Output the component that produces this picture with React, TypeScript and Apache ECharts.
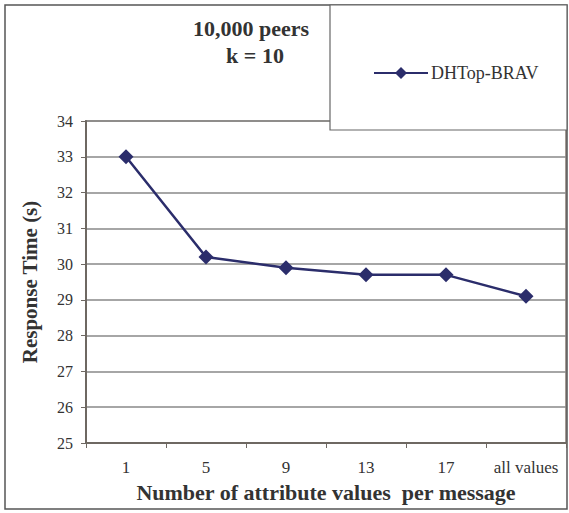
import React, { useEffect, useRef } from "react";
import * as echarts from "echarts";

const categories = ["1", "5", "9", "13", "17", "all values"];
const responseTimes = [33.0, 30.2, 29.9, 29.7, 29.7, 29.1];
const seriesName = "DHTop-BRAV";
const titleLines = ["10,000 peers", "k = 10"];
const xAxisName = "Number of attribute values  per message";
const yAxisName = "Response Time (s)";

export default function App() {
  const ref = useRef<HTMLDivElement>(null);
  useEffect(() => {
    if (!ref.current) return;
    const chart = echarts.init(ref.current, undefined, { renderer: "svg" });
    const font = "'Liberation Serif', 'Times New Roman', serif";
    chart.setOption({
      animation: false,
      backgroundColor: "#ffffff",
      textStyle: { fontFamily: font },
      grid: {
        left: 86,
        top: 121,
        width: 480,
        height: 322,
        show: true,
        borderColor: "#a39a94",
        borderWidth: 2,
        backgroundColor: "#ffffff",
      },
      xAxis: {
        type: "category",
        data: categories,
        boundaryGap: true,
        axisLine: { show: true, lineStyle: { color: "#6e6862", width: 2 } },
        axisTick: { show: true, length: 5, lineStyle: { color: "#6e6862" } },
        axisLabel: { color: "#333", fontSize: 17, fontFamily: font, margin: 16, interval: 0 },
        name: xAxisName,
        nameLocation: "middle",
        nameGap: 38,
        nameTextStyle: { color: "#333", fontSize: 22, fontWeight: "bold", fontFamily: font },
      },
      yAxis: {
        type: "value",
        min: 25,
        max: 34,
        interval: 1,
        axisLine: { show: true, lineStyle: { color: "#6e6862", width: 2 } },
        axisTick: { show: true, length: 5, lineStyle: { color: "#6e6862" } },
        axisLabel: { color: "#333", fontSize: 16, fontFamily: font, margin: 13 },
        splitLine: { show: true, lineStyle: { color: "#888", width: 1.5 } },
        name: yAxisName,
        nameLocation: "middle",
        nameGap: 46,
        nameRotate: 90,
        nameTextStyle: { color: "#333", fontSize: 21, fontWeight: "bold", fontFamily: font },
      },
      legend: {
        show: true,
        left: 368,
        top: 59,
        itemWidth: 54,
        itemHeight: 15,
        itemGap: 4,
        textStyle: { color: "#333", fontSize: 18, fontFamily: font, padding: [0, 0, 0, -2] },
        data: [seriesName],
        z: 20,
      },
      graphic: [
        {
          type: "rect",
          shape: { x: 5, y: 5, width: 562, height: 504 },
          style: { fill: "none", stroke: "#555", lineWidth: 1.5 },
          silent: true,
          z: 0,
        },
        {
          type: "rect",
          shape: { x: 330, y: 5, width: 237, height: 125 },
          style: { fill: "#ffffff", stroke: "#666", lineWidth: 1.2 },
          silent: true,
          z: 10,
        },
        {
          type: "text",
          x: 251,
          y: 28,
          style: {
            text: titleLines[0],
            fontSize: 22,
            fontWeight: "bold",
            fontFamily: font,
            fill: "#333",
            align: "center",
            verticalAlign: "middle",
          },
          z: 10,
        },
        {
          type: "text",
          x: 255,
          y: 55,
          style: {
            text: titleLines[1],
            fontSize: 22,
            fontWeight: "bold",
            fontFamily: font,
            fill: "#333",
            align: "center",
            verticalAlign: "middle",
          },
          z: 10,
        },
      ],
      series: [
        {
          name: seriesName,
          type: "line",
          data: responseTimes,
          symbol: "diamond",
          symbolSize: 15,
          lineStyle: { color: "#2b2d6b", width: 2.5 },
          itemStyle: { color: "#2b2d6b" },
          z: 5,
        },
      ],
    });
    return () => chart.dispose();
  }, []);
  return (
    <div
      ref={ref}
      style={{ position: "fixed", left: 0, top: 0, width: 569, height: 513 }}
    />
  );
}
